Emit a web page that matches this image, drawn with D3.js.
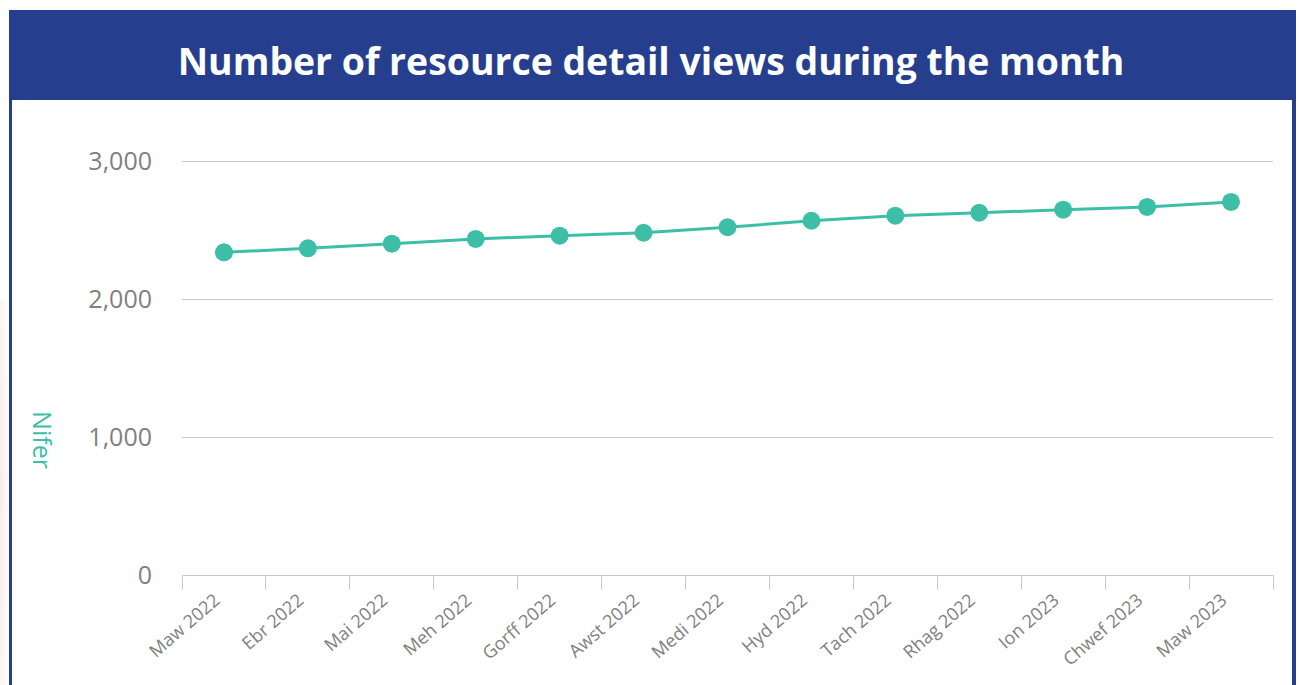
<!DOCTYPE html>
<html><head><meta charset="utf-8">
<script src="https://cdn.jsdelivr.net/npm/d3@7"></script>
<style>html,body{margin:0;padding:0;background:#fff;overflow:hidden}</style>
</head><body>
<svg id="c" width="1300" height="685"></svg>
<script>
const categories = ["Maw 2022","Ebr 2022","Mai 2022","Meh 2022","Gorff 2022","Awst 2022","Medi 2022","Hyd 2022","Tach 2022","Rhag 2022","Ion 2023","Chwef 2023","Maw 2023"];
const views = [2338,2367,2401,2435,2459,2480,2520,2567,2604,2625,2647,2667,2703];
const yTicks = [0,1000,2000,3000];
const title = "Number of resource detail views during the month";
const yLabel = "Nifer";

const svg = d3.select("#c");
const blue = "#253f8e", teal = "#3cbfa6", grey = "#808080";

// faint pink background at left edge
const defs = svg.append("defs");
const rg = defs.append("radialGradient").attr("id","pk").attr("cx","0").attr("cy","0.5").attr("r","1");
rg.append("stop").attr("offset","0").attr("stop-color","#fbe9e9");
rg.append("stop").attr("offset","1").attr("stop-color","#ffffff");
svg.append("rect").attr("x",0).attr("y",300).attr("width",9).attr("height",385).attr("fill","url(#pk)");

// frame
svg.append("rect").attr("x",9).attr("y",10).attr("width",1286).attr("height",90).attr("fill",blue);
svg.append("rect").attr("x",9).attr("y",10).attr("width",3).attr("height",680).attr("fill",blue);
svg.append("rect").attr("x",1292).attr("y",10).attr("width",4).attr("height",680).attr("fill",blue);

const t = svg.append("text").attr("x",651).attr("y",75).attr("text-anchor","middle")
  .attr("fill","#fff").attr("font-family","'Open Sans', sans-serif").attr("font-weight","bold")
  .attr("font-size",36).text(title);
const tw = t.node().getComputedTextLength();
t.attr("font-size", 36*947/tw);

const x = d3.scaleBand().domain(categories).range([182,1273]);
const y = d3.scaleLinear().domain([0,3000]).range([575,161]);

// gridlines
svg.append("g").selectAll("line").data(yTicks.filter(d=>d>0)).join("line")
  .attr("x1",182).attr("x2",1273).attr("y1",d=>y(d)).attr("y2",d=>y(d))
  .attr("stroke","#c8c8c8").attr("stroke-width",1).attr("shape-rendering","crispEdges");

// y tick labels
svg.append("g").selectAll("text").data(yTicks).join("text")
  .attr("x",152).attr("y",d=>y(d)+9).attr("text-anchor","end")
  .attr("fill",grey).attr("font-family","'Open Sans', sans-serif").attr("font-size",25)
  .text(d=>d3.format(",")(d));

// x axis
const xa = svg.append("g").attr("transform","translate(0,575)")
  .call(d3.axisBottom(x).tickSize(14).tickSizeOuter(0).tickValues([]));
xa.select(".domain").attr("stroke","#c8c8c8");
const tickPos = categories.map(c=>x(c)).concat([x.range()[1]]);
xa.selectAll(".tk").data(tickPos).join("line").attr("class","tk")
  .attr("x1",d=>d).attr("x2",d=>d).attr("y1",0).attr("y2",14)
  .attr("stroke","#c8c8c8").attr("shape-rendering","crispEdges");
xa.selectAll(".lbl").data(categories).join("text").attr("class","lbl")
  .attr("transform",d=>`translate(${x(d)+x.bandwidth()/2-3},${27}) rotate(-41)`)
  .attr("text-anchor","end").attr("fill",grey)
  .attr("font-family","'Open Sans', sans-serif").attr("font-size",18).text(d=>d);

// y label
svg.append("text").attr("transform","translate(33,440) rotate(90)")
  .attr("text-anchor","middle").attr("fill",teal)
  .attr("font-family","'Open Sans', sans-serif").attr("font-size",25).text(yLabel);

// line + points
const cx = (d,i)=>x(categories[i])+x.bandwidth()/2;
svg.append("path").datum(views)
  .attr("d",d3.line().x(cx).y(d=>y(d)))
  .attr("fill","none").attr("stroke",teal).attr("stroke-width",3);
svg.append("g").selectAll("circle").data(views).join("circle")
  .attr("cx",cx).attr("cy",d=>y(d)).attr("r",9).attr("fill",teal);
</script>
</body></html>
